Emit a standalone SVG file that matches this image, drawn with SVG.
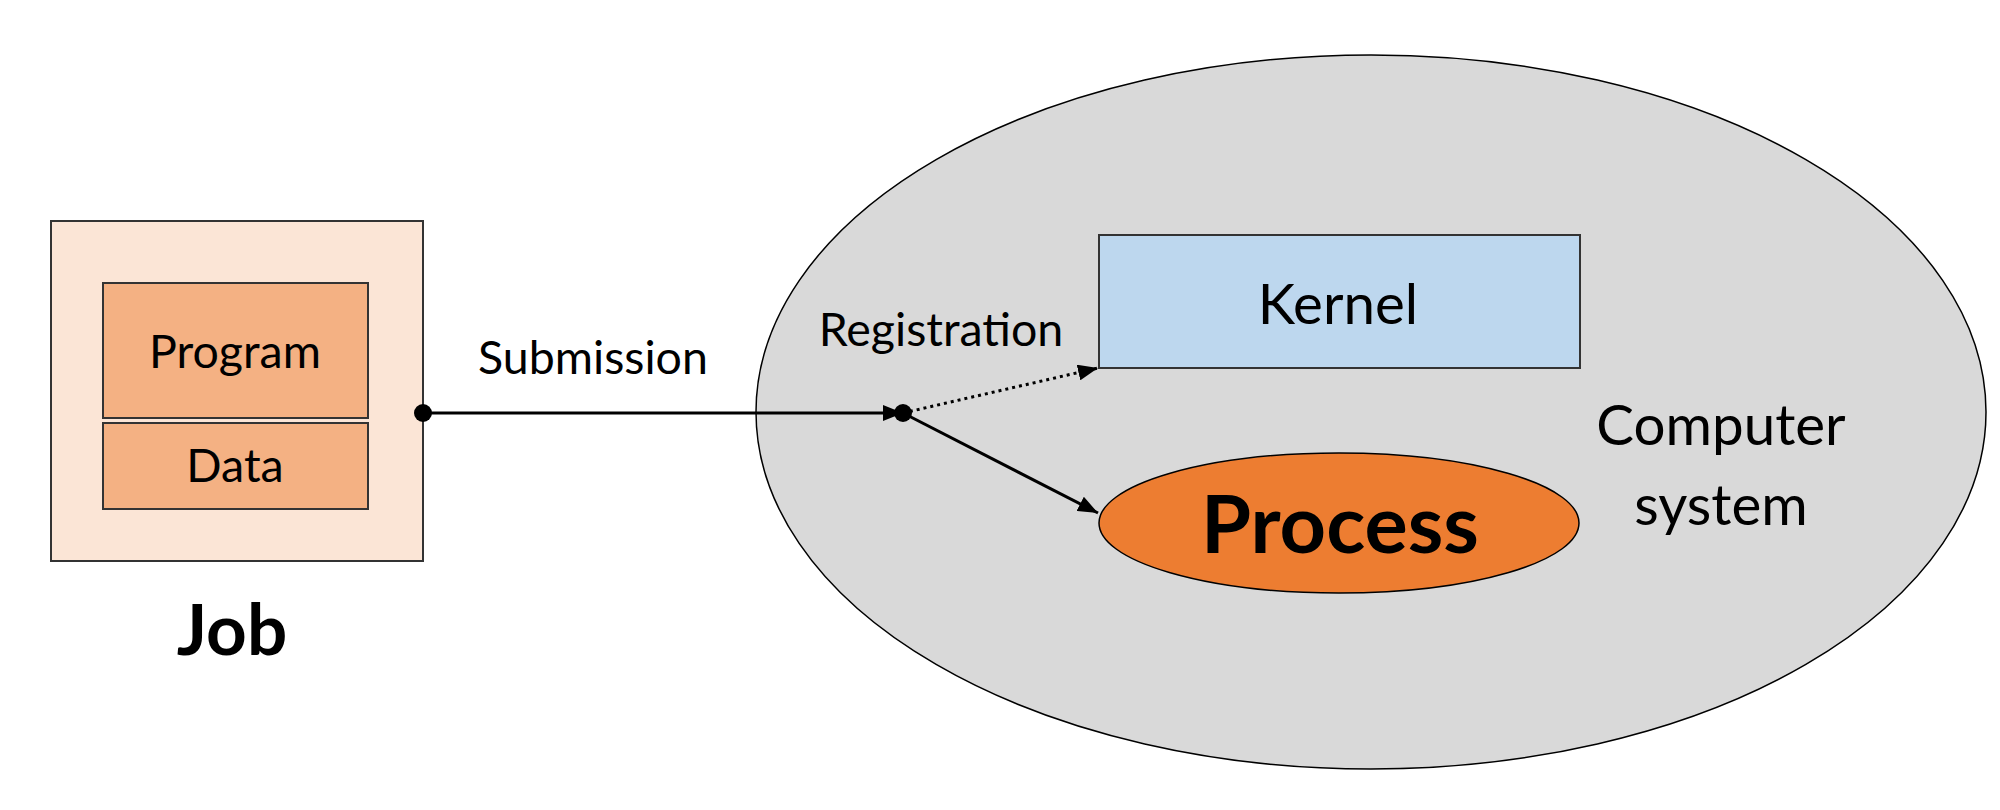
<svg xmlns="http://www.w3.org/2000/svg" width="2000" height="810" viewBox="0 0 2000 810">
<defs>
<style>
text { font-family: Lato, "Noto Sans", sans-serif; fill: #000; text-anchor: middle; }
.lbl { font-size: 46.5px; }
.big { font-size: 56.5px; }
.bold { font-weight: bold; }
.box { stroke: #333; stroke-width: 2; }
.conn { stroke: #000; stroke-width: 3; fill: none; }
</style>
<marker id="tri" markerUnits="userSpaceOnUse" markerWidth="20" markerHeight="16" viewBox="0 0 20 16" refX="20" refY="8" orient="auto">
<path d="M0,0 L20,8 L0,16 Z" fill="#000"/>
</marker>
</defs>
<rect width="2000" height="810" fill="#fff"/>
<g id="computer-system">
<ellipse cx="1371" cy="412" rx="615" ry="357" fill="#D9D9D9" stroke="#000" stroke-width="1.5"/>
<text class="big" x="1721" y="445">Computer</text>
<text class="big" x="1721" y="525">system</text>
</g>
<g id="job">
<rect class="box" x="51" y="221" width="372" height="340" fill="#FBE5D6"/>
<text class="bold" x="232" y="655" font-size="71">Job</text>
</g>
<g id="program">
<rect class="box" x="103" y="283" width="265" height="135" fill="#F4B183"/>
<text class="lbl" x="235" y="368">Program</text>
</g>
<g id="data">
<rect class="box" x="103" y="423" width="265" height="86" fill="#F4B183"/>
<text class="lbl" x="235" y="482">Data</text>
</g>
<g id="kernel">
<rect class="box" x="1099" y="235" width="481" height="133" fill="#BDD7EE"/>
<text class="big" x="1338" y="324">Kernel</text>
</g>
<g id="process">
<ellipse cx="1339" cy="523" rx="240" ry="70" fill="#ED7D31" stroke="#000" stroke-width="1.5"/>
<text class="bold" x="1340" y="553" font-size="81">Process</text>
</g>
<g id="connectors">
<line class="conn" x1="423" y1="413" x2="903" y2="413" marker-end="url(#tri)"/>
<line class="conn" x1="903" y1="413" x2="1098" y2="368" stroke-dasharray="3 4" marker-end="url(#tri)"/>
<line class="conn" x1="903" y1="413" x2="1098" y2="513" marker-end="url(#tri)"/>
<circle cx="423" cy="413" r="9" fill="#000"/>
<circle cx="903" cy="413" r="9" fill="#000"/>
<text class="lbl" x="593" y="374">Submission</text>
<text class="lbl" x="941" y="346">Registration</text>
</g>
</svg>
